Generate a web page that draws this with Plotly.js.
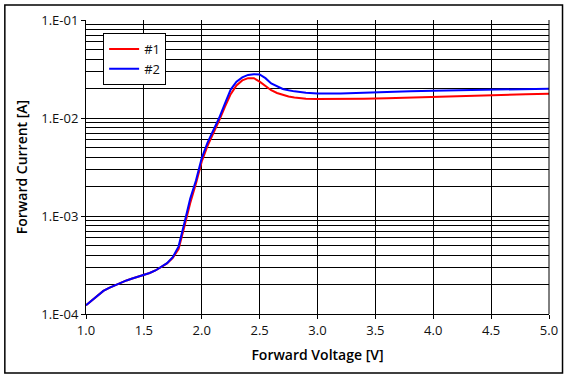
<!DOCTYPE html>
<html>
<head>
<meta charset="utf-8">
<script src="https://cdn.plot.ly/plotly-3.0.1.min.js"></script>
<style>html,body{margin:0;padding:0;background:#fff;}#chart{width:568px;height:380px;}</style>
</head>
<body>
<div id="chart"></div>
<script>
const voltage = [1.0,1.05,1.1,1.15,1.2,1.25,1.3,1.35,1.4,1.45,1.5,1.55,1.6,1.65,1.7,1.75,1.8,1.85,1.9,1.95,2.0,2.05,2.1,2.15,2.2,2.25,2.3,2.35,2.4,2.45,2.5,2.55,2.6,2.65,2.7,2.75,2.8,2.9,3.0,3.2,3.4,3.6,3.8,4.0,4.2,4.4,4.6,4.8,5.0];
const current1 = [1.23e-4,1.38e-4,1.56e-4,1.72e-4,1.85e-4,1.97e-4,2.09e-4,2.2e-4,2.3e-4,2.4e-4,2.5e-4,2.62e-4,2.78e-4,3.0e-4,3.28e-4,3.75e-4,4.6e-4,7.8e-4,1.35e-3,2.15e-3,3.6e-3,5.2e-3,6.9e-3,9.4e-3,1.3e-2,1.75e-2,2.15e-2,2.42e-2,2.55e-2,2.55e-2,2.35e-2,2.12e-2,1.92e-2,1.8e-2,1.72e-2,1.66e-2,1.62e-2,1.57e-2,1.56e-2,1.56e-2,1.57e-2,1.59e-2,1.62e-2,1.65e-2,1.67e-2,1.70e-2,1.72e-2,1.75e-2,1.77e-2];
const current2 = [1.23e-4,1.38e-4,1.56e-4,1.72e-4,1.85e-4,1.97e-4,2.09e-4,2.2e-4,2.3e-4,2.4e-4,2.5e-4,2.62e-4,2.78e-4,3.0e-4,3.3e-4,3.8e-4,4.9e-4,8.5e-4,1.5e-3,2.3e-3,3.9e-3,5.6e-3,7.4e-3,1.0e-2,1.4e-2,1.95e-2,2.35e-2,2.6e-2,2.75e-2,2.8e-2,2.78e-2,2.55e-2,2.25e-2,2.1e-2,1.98e-2,1.92e-2,1.87e-2,1.81e-2,1.78e-2,1.78e-2,1.80e-2,1.82e-2,1.87e-2,1.90e-2,1.92e-2,1.94e-2,1.96e-2,1.97e-2,1.99e-2];
const seriesNames = ['#1','#2'];
const xTicks = [1.0,1.5,2.0,2.5,3.0,3.5,4.0,4.5,5.0];
const xTickText = ['1.0','1.5','2.0','2.5','3.0','3.5','4.0','4.5','5.0'];
const yTicks = [1e-4,1e-3,1e-2,1e-1];
const yTickText = ['1.E-04','1.E-03','1.E-02','1.E-01'];
const yMinor = [];
[1e-4,1e-3,1e-2].forEach(d => { for (let k = 2; k <= 9; k++) yMinor.push(k*d); });

const font = 'Open Sans, Noto Sans, DejaVu Sans, sans-serif';
const traces = [
  {x: voltage, y: current1, name: seriesNames[0], type: 'scatter', mode: 'lines', line: {color: '#ff0000', width: 2}},
  {x: voltage, y: current2, name: seriesNames[1], type: 'scatter', mode: 'lines', line: {color: '#0000ff', width: 2}}
];
const layout = {
  width: 568, height: 380,
  margin: {l: 86, r: 19, t: 20, b: 66, pad: 0},
  paper_bgcolor: '#fff', plot_bgcolor: '#fff',
  font: {family: font, size: 13, color: '#111'},
  showlegend: true,
  legend: {x: 0.037, y: 0.956, xanchor: 'left', yanchor: 'top', bgcolor: '#fff', bordercolor: '#000', borderwidth: 1, font: {family: font, size: 13, color: '#111'}, tracegroupgap: 0},
  xaxis: {
    range: [1.0, 5.0], tickvals: xTicks, ticktext: xTickText,
    showgrid: true, gridcolor: '#000', gridwidth: 1,
    ticks: 'outside', ticklen: 4, tickcolor: '#000',
    showline: true, linecolor: '#000', linewidth: 1, zeroline: false,
    tickfont: {family: font, size: 13, color: '#111'},
    title: {text: 'Forward Voltage [V]', font: {family: font, size: 14, color: '#000', weight: 600}, standoff: 12}
  },
  yaxis: {
    type: 'log', range: [-4, -1], tickvals: yTicks, ticktext: yTickText,
    showgrid: true, gridcolor: '#000', gridwidth: 1,
    ticks: 'outside', ticklen: 4, tickcolor: '#000',
    showline: true, linecolor: '#000', linewidth: 1, zeroline: false,
    tickfont: {family: font, size: 13, color: '#111'},
    minor: {tickmode: 'array', tickvals: yMinor, showgrid: true, gridcolor: '#000', gridwidth: 1, ticks: ''},
    title: {text: 'Forward Current [A]', font: {family: font, size: 14, color: '#000', weight: 600}, standoff: 10}
  },
  shapes: [
    {type: 'rect', xref: 'paper', yref: 'paper', x0: -0.1753, x1: 1.0292, y0: -0.2007, y1: 1.051, line: {color: '#000', width: 1.5}, fillcolor: 'rgba(0,0,0,0)'},
    {type: 'line', xref: 'paper', yref: 'paper', x0: 1, x1: 1, y0: 0, y1: 1, line: {color: '#000', width: 1}}
  ]
};
Plotly.newPlot('chart', traces, layout, {displayModeBar: false, staticPlot: true});
</script>
</body>
</html>
